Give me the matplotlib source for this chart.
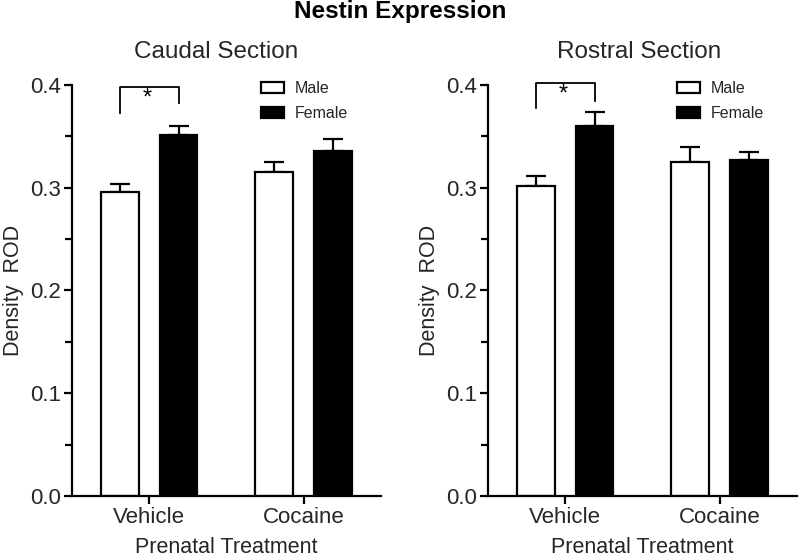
import numpy as np
import matplotlib
matplotlib.use("Agg")
from matplotlib import pyplot as plt
from matplotlib.ticker import MultipleLocator, FormatStrFormatter

plt.rcParams["font.family"] = ["Liberation Sans", "DejaVu Sans"]

treatments = ["Vehicle", "Cocaine"]
sexes = ["Male", "Female"]

caudal_mean = {"Male": [0.296, 0.315], "Female": [0.351, 0.336]}
caudal_err = {"Male": [0.008, 0.010], "Female": [0.009, 0.011]}
rostral_mean = {"Male": [0.302, 0.325], "Female": [0.360, 0.327]}
rostral_err = {"Male": [0.009, 0.015], "Female": [0.014, 0.008]}

# significance bracket: (top, left leg bottom, right leg bottom)
caudal_sig = (0.398, 0.373, 0.382)
rostral_sig = (0.402, 0.377, 0.384)

text_col = "#262626"


def panel(ax, means, errs, sig, title, title_x):
    x = np.arange(len(treatments))
    off = 0.19
    w = 0.245
    for sex, dx, fc in [("Male", -off, "white"), ("Female", off, "black")]:
        ax.bar(x + dx, means[sex], w, color=fc, edgecolor="black",
               linewidth=1.6, label=sex, zorder=2)
        ax.errorbar(x + dx, means[sex],
                    yerr=[np.zeros(len(x)), errs[sex]],
                    fmt="none", ecolor="black", elinewidth=1.6,
                    capsize=7, capthick=1.6, zorder=1)
    top, lb, rb = sig
    ax.plot([-off, -off, off, off], [lb, top, top, rb], color="black",
            lw=1.3, clip_on=False)
    ax.text(-0.015, top - 0.001, "*", ha="center", va="top", fontsize=17,
            color="black")

    ax.set_xlim(-0.5, 1.5)
    ax.set_ylim(0.0, 0.4)
    ax.set_xticks(x)
    ax.set_xticklabels(treatments)
    ax.yaxis.set_major_locator(MultipleLocator(0.1))
    ax.yaxis.set_minor_locator(MultipleLocator(0.05))
    ax.yaxis.set_major_formatter(FormatStrFormatter("%.1f"))
    for s in ["top", "right"]:
        ax.spines[s].set_visible(False)
    for s in ["left", "bottom"]:
        ax.spines[s].set_linewidth(1.6)
    ax.tick_params(axis="both", which="major", length=6, width=1.6,
                   labelsize=16, labelcolor=text_col, direction="out")
    ax.tick_params(axis="y", which="major", pad=2)
    ax.tick_params(axis="x", which="major", pad=2)
    ax.tick_params(axis="y", which="minor", length=5, width=1.6)
    ax.set_ylabel("Density  ROD", fontsize=15.5, color=text_col, labelpad=4)
    ax.set_xlabel("Prenatal Treatment", fontsize=15.5, color=text_col,
                  labelpad=6)
    ax.set_title(title, fontsize=17.5, color=text_col, pad=19, x=title_x)
    ax.legend(loc="upper left", bbox_to_anchor=(0.613, 1.010), frameon=False,
              fontsize=11.5, borderpad=0, borderaxespad=0, handlelength=1.4,
              handleheight=0.7, handletextpad=0.7, labelspacing=0.66,
              labelcolor=text_col)


fig = plt.figure(figsize=(8, 5.58), dpi=100)
ax1 = fig.add_axes([0.09, 0.111, 0.386, 0.737])
ax2 = fig.add_axes([0.61, 0.111, 0.386, 0.737])
panel(ax1, caudal_mean, caudal_err, caudal_sig, "Caudal Section", 0.467)
panel(ax2, rostral_mean, rostral_err, rostral_sig, "Rostral Section", 0.49)
fig.text(0.5, 0.98, "Nestin Expression", ha="center", va="center",
         fontsize=17.5, fontweight="bold", color="black")
fig.savefig("out.png", dpi=100)
plt.close()
